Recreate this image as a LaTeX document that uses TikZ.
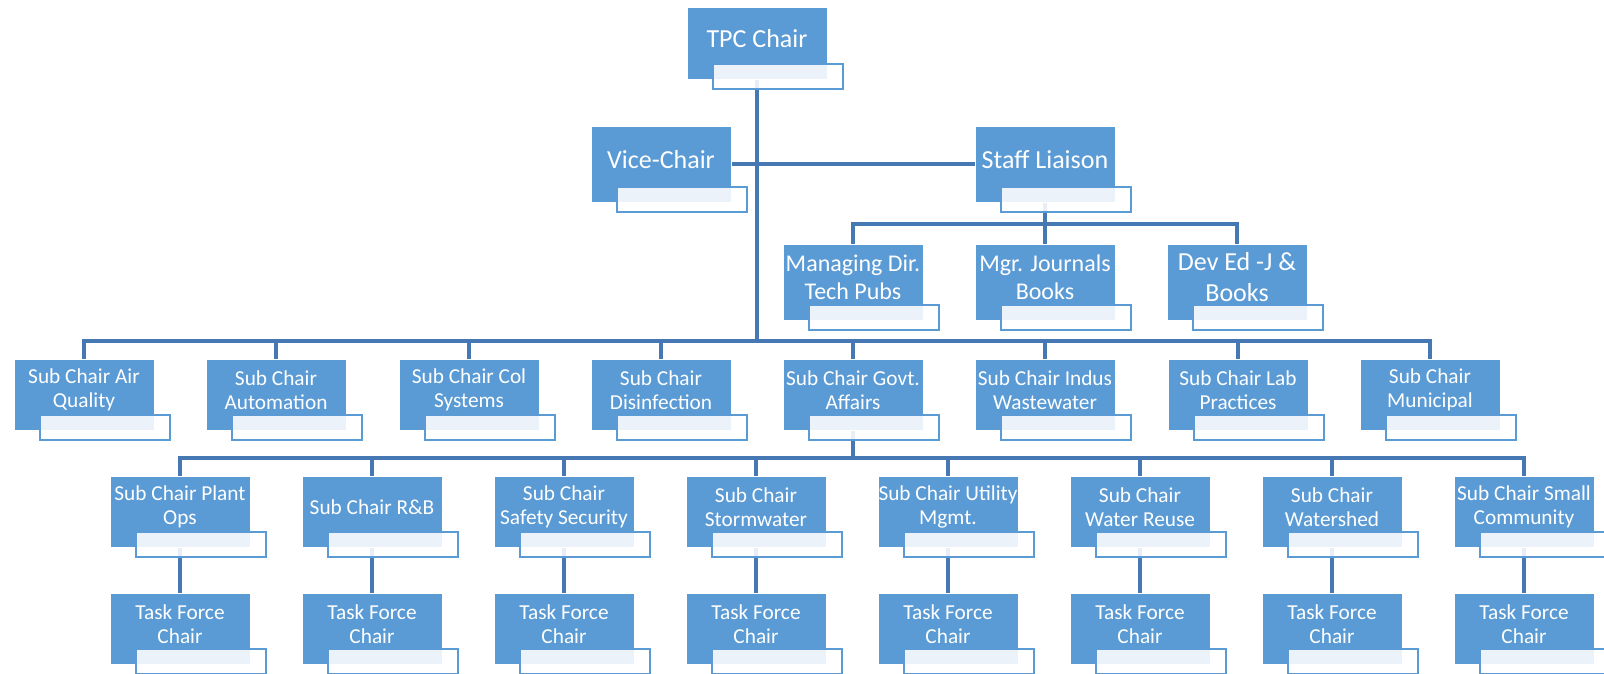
\documentclass[tikz,border=0pt]{standalone}
\usepackage{fontspec}
\setmainfont{Carlito}
\definecolor{boxblue}{HTML}{5B9BD5}
\definecolor{linkblue}{HTML}{4679B3}
\pgfdeclarelayer{bg}
\pgfsetlayers{bg,main}
\tikzset{
  bluebox/.style={fill=boxblue, draw=white, line width=0.6pt, minimum width=140pt, inner sep=0pt, outer sep=0pt},
  lbl/.style={text=white, align=center, inner sep=0pt},
  fA/.style={font=\fontsize{26}{31}\selectfont},
  fB/.style={font=\fontsize{24}{28}\selectfont},
  fC/.style={font=\fontsize{21.3}{24.5}\selectfont},
  conn/.style={draw=linkblue, line width=3.3pt},
  whitebox/.style={fill=white, fill opacity=0.88, draw=boxblue, line width=1.8pt},
}
% name, centre x, top y, height, font style, text
\newcommand\obox[6]{%
  \node[bluebox, minimum height=#4pt] (#1) at (#2, #3+#4/2) {};
  \draw[whitebox] ([xshift=26pt,yshift=15pt]#1.south west) rectangle ([xshift=16pt,yshift=-10pt]#1.south east);
  \node[lbl, #5] (#1t) at ([yshift=4.5pt]#1.center) {#6};
}
\begin{document}
\begin{tikzpicture}[x=1pt,y=-1pt]
\clip (0,0) rectangle (1604,673);
\useasboundingbox (0,0) rectangle (1604,673);
\obox{tpc}{757}{7}{72}{fA}{TPC Chair}
\obox{vice}{661}{126}{76}{fA}{Vice-Chair}
\obox{staff}{1045}{126}{76}{fA}{Staff Liaison}
\obox{mdir}{853}{244}{76}{fB}{Managing Dir.\\Tech Pubs}
\obox{mgr}{1045}{244}{76}{fB}{Mgr. Journals\\Books}
\obox{dev}{1237}{244}{76}{fA}{Dev Ed -J \&\\Books}
\foreach \i/\x/\t in {1/84/{Sub Chair Air\\Quality},2/276/{Sub Chair\\Automation},3/469/{Sub Chair Col\\Systems},4/661/{Sub Chair\\Disinfection},5/853/{Sub Chair Govt.\\Affairs},6/1045/{Sub Chair Indus\\Wastewater},7/1238/{Sub Chair Lab\\Practices},8/1430/{Sub Chair\\Municipal}}{
  \obox{c\i}{\x}{359}{71}{fC}{\t}
}
\foreach \i/\x/\t in {1/180/{Sub Chair Plant\\Ops},2/372/{Sub Chair R\&B},3/564/{Sub Chair\\Safety Security},4/756/{Sub Chair\\Stormwater},5/948/{Sub Chair Utility\\Mgmt.},6/1140/{Sub Chair\\Water Reuse},7/1332/{Sub Chair\\Watershed},8/1524/{Sub Chair Small\\Community}}{
  \obox{s\i}{\x}{476}{71}{fC}{\t}
  \obox{t\i}{\x}{593}{71}{fC}{Task Force\\Chair}
}
\coordinate (b2) at (0,224);
\coordinate (b3) at (0,341);
\coordinate (b4) at (0,458);
\begin{pgfonlayer}{bg}
  \draw[conn] (tpc.center) -- (tpc |- b3);
  \foreach \i in {1,...,8}{\draw[conn] (tpc |- b3) -| (c\i.north);}
  \draw[conn] (vice.east) -- (staff.west);
  \draw[conn] (staff.center) -- (staff |- b2);
  \foreach \n in {mdir,mgr,dev}{\draw[conn] (staff |- b2) -| (\n.north);}
  \draw[conn] (c5.center) -- (c5 |- b4);
  \foreach \i in {1,...,8}{\draw[conn] (c5 |- b4) -| (s\i.north);}
  \foreach \i in {1,...,8}{\draw[conn] (s\i.center) -- (t\i.north);}
\end{pgfonlayer}
\end{tikzpicture}
\end{document}
